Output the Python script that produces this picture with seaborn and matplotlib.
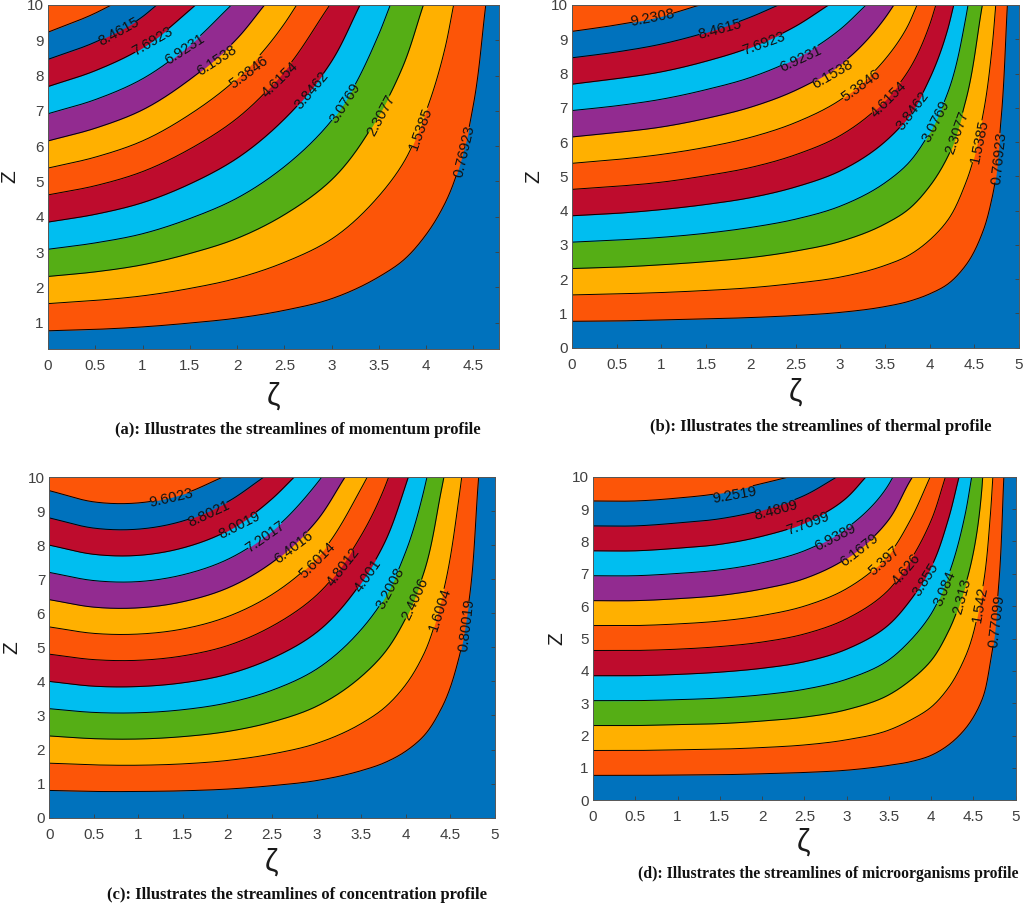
import numpy as np
import matplotlib
matplotlib.use('Agg')
import matplotlib.pyplot as plt
import seaborn as sns

# Contours. Each row of z values belongs to the shared
# zeta grid of its panel, and top_* is where that contour leaves through z = 10.
zeta_a = [0, 0.5, 1, 1.5, 2, 2.5, 3, 3.5, 3.75, 4, 4.2, 4.4, 4.5]
z_a = [[.77, .81, .88, .99, 1.13, 1.35, 1.68, 2.30, 2.75, 3.50, 4.39, 5.92, 7.19],
       [1.54, 1.63, 1.76, 1.97, 2.26, 2.71, 3.37, 4.59, 5.49, 7.00, 8.79],
       [2.31, 2.44, 2.64, 2.96, 3.39, 4.06, 5.05, 6.89, 8.24],
       [3.08, 3.26, 3.52, 3.95, 4.53, 5.42, 6.73, 9.18],
       [3.85, 4.07, 4.40, 4.93, 5.66, 6.77, 8.41],
       [4.62, 4.88, 5.28, 5.92, 6.79, 8.13],
       [5.38, 5.69, 6.15, 6.90, 7.92, 9.47],
       [6.15, 6.51, 7.03, 7.89, 9.05],
       [6.92, 7.32, 7.91, 8.87],
       [7.69, 8.14, 8.79, 9.86],
       [8.46, 8.95, 9.67],
       [9.23, 9.77]]
top_a = [4.63, 4.29, 3.97, 3.62, 3.30, 2.98, 2.63, 2.29, 1.94, 1.56, 1.15, 0.67]

zeta_b = [0, 0.5, 1, 1.5, 2, 2.5, 3, 3.5, 3.75, 4, 4.2, 4.4, 4.6, 4.7, 4.8]
z_b = [[.77, .78, .81, .84, .88, .94, 1.03, 1.20, 1.34, 1.57, 1.85, 2.39, 3.42, 4.39, 6.69],
       [1.54, 1.57, 1.61, 1.67, 1.75, 1.88, 2.06, 2.40, 2.67, 3.14, 3.71, 4.78, 6.84, 8.79],
       [2.31, 2.35, 2.42, 2.51, 2.63, 2.82, 3.10, 3.61, 4.01, 4.71, 5.56, 7.17],
       [3.08, 3.14, 3.22, 3.34, 3.51, 3.75, 4.13, 4.81, 5.35, 6.28, 7.42, 9.56],
       [3.85, 3.92, 4.03, 4.18, 4.38, 4.69, 5.16, 6.01, 6.69, 7.85, 9.27],
       [4.62, 4.71, 4.83, 5.02, 5.26, 5.63, 6.19, 7.21, 8.03, 9.42],
       [5.38, 5.49, 5.64, 5.85, 6.14, 6.57, 7.23, 8.41, 9.36],
       [6.15, 6.28, 6.44, 6.69, 7.02, 7.51, 8.26, 9.62],
       [6.92, 7.06, 7.25, 7.53, 7.89, 8.44, 9.29],
       [7.69, 7.85, 8.05, 8.36, 8.77, 9.38],
       [8.46, 8.63, 8.86, 9.20, 9.65],
       [9.23, 9.42, 9.67]]
top_b = [4.87, 4.74, 4.59, 4.43, 4.27, 4.07, 3.86, 3.60, 3.29, 2.87, 2.31, 1.43]

zeta_c = [0, 0.5, 1, 1.5, 2, 2.5, 3, 3.5, 3.75, 4, 4.2, 4.4, 4.6, 4.7]
z_c = [[.80, .77, .77, .79, .84, .94, 1.09, 1.38, 1.60, 1.95, 2.39, 3.20, 4.71, 6.16],
       [1.60, 1.55, 1.54, 1.58, 1.68, 1.87, 2.18, 2.76, 3.20, 3.90, 4.78, 6.40, 9.41],
       [2.40, 2.32, 2.31, 2.38, 2.53, 2.81, 3.27, 4.14, 4.80, 5.85, 7.16, 9.60],
       [3.20, 3.09, 3.08, 3.17, 3.37, 3.74, 4.36, 5.52, 6.40, 7.80, 9.55],
       [4.00, 3.86, 3.85, 3.96, 4.21, 4.68, 5.44, 6.90, 8.00, 9.76],
       [4.80, 4.64, 4.62, 4.75, 5.05, 5.62, 6.53, 8.28, 9.60],
       [5.60, 5.41, 5.39, 5.54, 5.90, 6.55, 7.62, 9.66],
       [6.40, 6.18, 6.16, 6.34, 6.74, 7.49, 8.71],
       [7.20, 6.96, 6.93, 7.13, 7.58, 8.42, 9.80],
       [8.00, 7.73, 7.70, 7.92, 8.42, 9.36],
       [8.80, 8.50, 8.47, 8.71, 9.27],
       [9.60, 9.27, 9.24, 9.50]]
top_c = [4.82, 4.63, 4.43, 4.24, 4.03, 3.81, 3.57, 3.32, 3.06, 2.75, 2.41, 1.95]

zeta_d = [0, 0.5, 1, 1.5, 2, 2.5, 3, 3.5, 3.75, 4, 4.2, 4.4, 4.6, 4.7, 4.8]
z_d = [[.77, .77, .78, .79, .82, .86, .93, 1.08, 1.19, 1.39, 1.70, 2.20, 3.10, 4.25, 6.70],
       [1.54, 1.54, 1.56, 1.58, 1.63, 1.71, 1.87, 2.17, 2.47, 2.88, 3.46, 4.41, 6.43, 8.81],
       [2.31, 2.31, 2.34, 2.37, 2.45, 2.57, 2.80, 3.26, 3.70, 4.32, 5.20, 6.61, 9.64],
       [3.08, 3.08, 3.11, 3.16, 3.26, 3.43, 3.74, 4.34, 4.93, 5.76, 6.93, 8.81],
       [3.85, 3.85, 3.89, 3.96, 4.08, 4.28, 4.67, 5.43, 6.17, 7.21, 8.66],
       [4.63, 4.63, 4.67, 4.75, 4.89, 5.14, 5.61, 6.51, 7.40, 8.65],
       [5.40, 5.40, 5.45, 5.54, 5.71, 6.00, 6.54, 7.60, 8.64],
       [6.17, 6.17, 6.23, 6.33, 6.53, 6.85, 7.48, 8.68, 9.87],
       [6.94, 6.94, 7.01, 7.12, 7.34, 7.71, 8.41, 9.77],
       [7.71, 7.71, 7.79, 7.91, 8.16, 8.57, 9.35],
       [8.48, 8.48, 8.57, 8.70, 8.97, 9.42],
       [9.25, 9.25, 9.34, 9.49, 9.79]]
top_d = [4.86, 4.73, 4.61, 4.48, 4.33, 4.17, 3.99, 3.78, 3.55, 3.23, 2.89, 2.33]

# contour labels, lowest contour first
text_a = ['0.76923', '1.5385', '2.3077', '3.0769', '3.8462', '4.6154', '5.3846', '6.1538', '6.9231', '7.6923', '8.4615']
at_a = [(4.40, 5.85, 77), (3.94, 6.51, 70), (3.52, 6.88, 62), (3.14, 7.23, 57), (2.79, 7.57, 50), (2.45, 7.88, 44),
        (2.12, 8.08, 37), (1.79, 8.44, 33), (1.45, 8.73, 33), (1.11, 8.96, 30), (0.75, 9.24, 29)]
text_b = ['0.76923', '1.5385', '2.3077', '3.0769', '3.8462', '4.6154', '5.3846', '6.1538', '6.9231', '7.6923', '8.4615', '9.2308']
at_b = [(4.78, 5.54, 84), (4.56, 6.01, 78), (4.31, 6.27, 70), (4.07, 6.60, 63), (3.81, 6.92, 53), (3.54, 7.26, 45),
        (3.23, 7.64, 36), (2.92, 7.99, 30), (2.56, 8.44, 25), (2.15, 8.88, 20), (1.65, 9.30, 15), (0.905, 9.63, 11)]
text_c = ['0.80019', '1.6004', '2.4006', '3.2008', '4.001', '4.8012', '5.6014', '6.4016', '7.2017', '8.0019', '8.8021', '9.6023']
at_c = [(4.68, 5.64, 83), (4.39, 6.12, 72), (4.11, 6.41, 65), (3.83, 6.73, 62), (3.58, 7.10, 55), (3.30, 7.35, 52),
        (3.01, 7.54, 45), (2.74, 7.95, 37), (2.43, 8.25, 35), (2.14, 8.59, 27), (1.79, 8.93, 25), (1.37, 9.37, 13)]
text_d = ['0.77099', '1.542', '2.313', '3.084', '3.855', '4.626', '5.397', '6.1679', '6.9389', '7.7099', '8.4809', '9.2519']
at_d = [(4.77, 5.54, 83), (4.58, 6.06, 80), (4.37, 6.29, 75), (4.16, 6.55, 67), (3.94, 6.84, 58), (3.71, 7.12, 50),
        (3.45, 7.40, 42), (3.15, 7.73, 38), (2.87, 8.13, 27), (2.54, 8.54, 20), (2.17, 8.97, 15), (1.67, 9.43, 10)]

captions = ['(a): Illustrates the streamlines of momentum profile',
            '(b): Illustrates the streamlines of thermal profile',
            '(c): Illustrates the streamlines of concentration profile',
            '(d): Illustrates the streamlines of microorganisms profile']
caption_size = [12, 12, 11.9, 11.3]

blue, orange, yellow, green = '#0072BD', '#FC5508', '#FFB000', '#55AE15'
cyan, crimson, purple = '#00BEF0', '#BE0C2D', '#922B90'
band_colors = [orange, yellow, green, cyan, crimson, orange, yellow, purple, cyan, crimson, blue, orange]

x_ticks = [0, 0.5, 1, 1.5, 2, 2.5, 3, 3.5, 4, 4.5, 5]
x_labels = ['0', '0.5', '1', '1.5', '2', '2.5', '3', '3.5', '4', '4.5', '5']

sns.set_theme(style='ticks')
plt.rcParams['font.family'] = ['Liberation Sans', 'DejaVu Sans']
W, H = 1024, 905
fig = plt.figure(figsize=(W / 100, H / 100), dpi=100, facecolor='white')


def add_axes_px(left, right, top, bottom):
    return fig.add_axes([left / W, 1 - bottom / H, (right - left) / W, (bottom - top) / H])


def smooth(x, z, n=500):
    # Hermite curve through the readings, so the contour does not look polygonal
    x = np.asarray(x, float)
    z = np.asarray(z, float)
    s = np.r_[0, np.cumsum(np.hypot(np.diff(x) * 90, np.diff(z) * 34))]
    dx, dz = np.gradient(x, s), np.gradient(z, s)
    u = np.linspace(0, s[-1], n)
    i = np.clip(np.searchsorted(s, u, side='right') - 1, 0, len(s) - 2)
    h = s[i + 1] - s[i]
    t = (u - s[i]) / h
    a, b = 2 * t**3 - 3 * t**2 + 1, t**3 - 2 * t**2 + t
    c, d = -2 * t**3 + 3 * t**2, t**3 - t**2
    return (a * x[i] + b * h * dx[i] + c * x[i + 1] + d * h * dx[i + 1],
            a * z[i] + b * h * dz[i] + c * z[i + 1] + d * h * dz[i + 1])


def draw_line(ax, x, z):
    sns.lineplot(x=x, y=z, ax=ax, color='black', linewidth=0.7, sort=False, estimator=None,
                 legend=False, zorder=2)


def draw_panel(ax, zeta, rows, top, texts, ats, xlim, ylim, yticks):
    ax.set_xlim(*xlim)
    ax.set_ylim(*ylim)
    ax.set_facecolor(blue)
    curves = []
    for k, row in enumerate(rows):
        xs, zs = smooth(zeta[:len(row)] + [top[k]], row + [10])
        curves.append((xs, zs))
        ax.fill_between(xs, zs, 10, color=band_colors[k], linewidth=0, zorder=1)
    # the line stops around its label, as clabel does in the original
    # labels go from the lowest contour up, panel (a) just has one fewer
    for k, (xs, zs) in enumerate(curves):
        if k >= len(ats):
            draw_line(ax, xs, zs)
            continue
        pts = ax.transData.transform(np.column_stack([xs, zs]))
        c = ax.transData.transform([ats[k][:2]])[0]
        dist = np.hypot(*(pts - c).T)
        first = np.argmin(dist)
        far = dist > 3.5 * len(texts[k])
        idx = np.arange(len(xs))
        for part in (far & (idx < first), far & (idx > first)):
            if part.sum() > 1:
                draw_line(ax, xs[part], zs[part])
    for s, (xc, zc, rot) in zip(texts, ats):
        ax.text(xc, zc, s, rotation=rot, rotation_mode='anchor', ha='center', va='center',
                fontsize=10.5, color='#111111', zorder=3)
    ax.set_xlim(*xlim)
    ax.set_ylim(*ylim)
    ax.set_xticks([t for t in x_ticks if t <= xlim[1]])
    ax.set_xticklabels([s for t, s in zip(x_ticks, x_labels) if t <= xlim[1]])
    ax.set_yticks(yticks)
    ax.set_yticklabels([str(t) for t in yticks])
    ax.set_xlabel('')
    ax.set_ylabel('')
    ax.tick_params(direction='in', top=True, right=True, length=3, width=0.6, color='#404040',
                   labelcolor='#404040', labelsize=11)
    ax.tick_params(axis='x', pad=7.2)
    ax.tick_params(axis='y', pad=3)
    for side in ax.spines.values():
        side.set_linewidth(0.7)
        side.set_color('#555555')
        side.set_zorder(4)


ax_a = add_axes_px(48, 499, 5, 349.5)
ax_b = add_axes_px(572, 1019, 5, 347.7)
ax_c = add_axes_px(49.3, 494.7, 477, 817.7)
ax_d = add_axes_px(593, 1015.7, 476.7, 800.3)

draw_panel(ax_a, zeta_a, z_a, top_a, text_a, at_a, (0, 4.77), (0.24, 10), list(range(1, 11)))
draw_panel(ax_b, zeta_b, z_b, top_b, text_b, at_b, (0, 5), (0, 10), list(range(0, 11)))
draw_panel(ax_c, zeta_c, z_c, top_c, text_c, at_c, (0, 5), (0, 10), list(range(0, 11)))
draw_panel(ax_d, zeta_d, z_d, top_d, text_d, at_d, (0, 5), (0, 10), list(range(0, 11)))

zeta_pos = [(273, 397), (795, 393), (272, 863), (804, 843)]
z_pos = [(9.5, 177), (534, 177), (12, 648), (557, 639)]
caption_pos = [(298, 430), (821, 427), (297, 895), (828, 874)]
for (xp, yp) in zeta_pos:
    fig.text(xp / W, 1 - yp / H, 'ζ', fontsize=22, color='#1a1a1a', ha='center', va='center')
for (xp, yp) in z_pos:
    fig.text(xp / W, 1 - yp / H, 'Z', fontsize=15, color='#1a1a1a', rotation=90, ha='center', va='center')
for s, size, (xp, yp) in zip(captions, caption_size, caption_pos):
    fig.text(xp / W, 1 - yp / H, s, fontsize=size, family='Liberation Serif', fontweight='bold',
             color='#111111', ha='center', va='center')

fig.savefig('out.png', dpi=100)
